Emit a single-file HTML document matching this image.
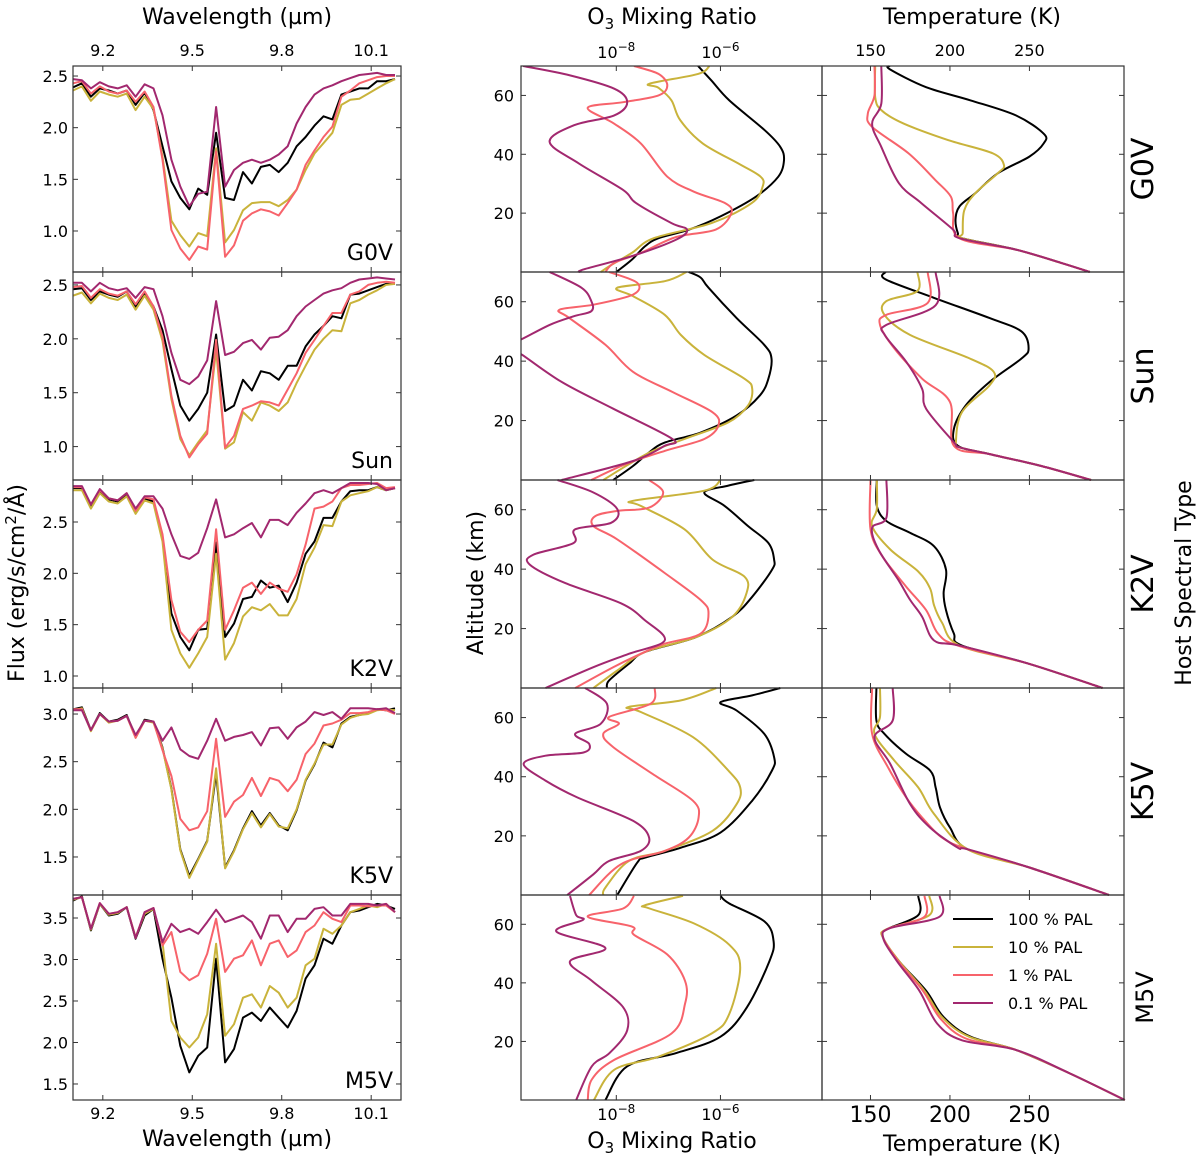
<!DOCTYPE html>
<html><head><meta charset="utf-8">
<style>
html,body{margin:0;padding:0;background:#fff;}
svg{display:block;font-family:"DejaVu Sans","Liberation Sans",sans-serif;}
</style></head>
<body>
<svg id="fig" width="1200" height="1162" viewBox="0 0 1200 1162" xmlns="http://www.w3.org/2000/svg">
<defs>
<clipPath id="cm"><rect x="521" y="66" width="301" height="1034"/></clipPath>
</defs>
<g id="panels"></g>
<g id="labels" font-size="22" fill="#000">
<text x="237" y="24" text-anchor="middle">Wavelength (µm)</text>
<text x="237" y="1146" text-anchor="middle">Wavelength (µm)</text>
<text x="672" y="24" text-anchor="middle">O<tspan font-size="15" dy="5">3</tspan><tspan dy="-5"> Mixing Ratio</tspan></text>
<text x="672" y="1148" text-anchor="middle">O<tspan font-size="15" dy="5">3</tspan><tspan dy="-5"> Mixing Ratio</tspan></text>
<text x="972" y="24" text-anchor="middle">Temperature (K)</text>
<text x="972" y="1151" text-anchor="middle">Temperature (K)</text>
<text transform="translate(24,583) rotate(-90)" text-anchor="middle">Flux (erg/s/cm<tspan font-size="15" dy="-8">2</tspan><tspan dy="8">/Å)</tspan></text>
<text transform="translate(483,583) rotate(-90)" text-anchor="middle">Altitude (km)</text>
<text transform="translate(1191,583) rotate(-90)" text-anchor="middle">Host Spectral Type</text>
</g>
</svg>
<script>
// ---------- Spectra data ----------
const wavelengths=[9.10,9.13,9.16,9.19,9.22,9.25,9.28,9.31,9.34,9.37,9.40,9.43,9.46,9.49,9.52,9.55,9.58,9.61,9.64,9.67,9.70,9.73,9.76,9.79,9.82,9.85,9.88,9.91,9.94,9.97,10.00,10.03,10.06,10.09,10.12,10.15,10.18];
const fluxG0V_100=[2.39,2.43,2.30,2.38,2.36,2.33,2.36,2.22,2.34,2.17,1.82,1.48,1.32,1.21,1.41,1.35,1.95,1.32,1.30,1.57,1.46,1.62,1.64,1.57,1.66,1.82,1.91,2.02,2.11,2.08,2.32,2.35,2.38,2.38,2.45,2.45,2.47];
const fluxG0V_10=[2.36,2.40,2.26,2.35,2.32,2.30,2.33,2.17,2.30,2.18,1.72,1.10,0.96,0.85,0.98,0.95,1.80,0.89,1.01,1.20,1.27,1.28,1.28,1.24,1.30,1.40,1.59,1.75,1.85,1.95,2.22,2.27,2.28,2.33,2.38,2.43,2.47];
const fluxG0V_1=[2.43,2.45,2.33,2.40,2.35,2.33,2.36,2.25,2.35,2.20,1.69,1.01,0.83,0.72,0.85,0.82,1.77,0.75,0.86,1.10,1.17,1.21,1.19,1.15,1.27,1.40,1.64,1.78,1.91,2.01,2.30,2.36,2.43,2.46,2.49,2.50,2.50];
const fluxG0V_01=[2.47,2.46,2.38,2.44,2.40,2.38,2.41,2.30,2.42,2.38,2.12,1.69,1.43,1.24,1.36,1.38,2.20,1.43,1.59,1.66,1.69,1.66,1.69,1.74,1.82,2.04,2.20,2.32,2.38,2.41,2.45,2.48,2.51,2.52,2.53,2.51,2.51];
const fluxSun_100=[2.46,2.47,2.36,2.44,2.41,2.39,2.44,2.30,2.42,2.30,2.08,1.72,1.38,1.24,1.35,1.50,2.04,1.33,1.38,1.62,1.52,1.70,1.68,1.62,1.75,1.75,1.93,2.04,2.12,2.21,2.19,2.41,2.42,2.45,2.48,2.51,2.51];
const fluxSun_10=[2.40,2.43,2.33,2.42,2.38,2.36,2.41,2.27,2.40,2.27,1.98,1.44,1.07,0.92,1.04,1.15,1.90,0.98,1.04,1.32,1.24,1.41,1.38,1.33,1.41,1.59,1.75,1.90,2.00,2.08,2.07,2.33,2.36,2.41,2.45,2.50,2.51];
const fluxSun_1=[2.48,2.49,2.38,2.46,2.42,2.40,2.44,2.32,2.44,2.30,2.02,1.47,1.10,0.90,1.02,1.12,1.99,0.99,1.10,1.35,1.38,1.42,1.41,1.38,1.53,1.68,1.87,1.99,2.12,2.24,2.24,2.41,2.44,2.50,2.52,2.53,2.52];
const fluxSun_01=[2.52,2.52,2.44,2.52,2.47,2.45,2.47,2.38,2.48,2.46,2.21,1.87,1.62,1.58,1.65,1.80,2.35,1.85,1.88,1.96,1.99,1.90,2.01,2.02,2.08,2.21,2.30,2.36,2.42,2.45,2.47,2.52,2.55,2.56,2.57,2.56,2.55];
const fluxK2V_100=[2.83,2.83,2.65,2.80,2.72,2.70,2.77,2.60,2.73,2.70,2.35,1.61,1.38,1.25,1.45,1.46,2.30,1.38,1.51,1.75,1.77,1.93,1.86,1.88,1.72,1.91,2.19,2.31,2.54,2.54,2.70,2.80,2.81,2.81,2.84,2.81,2.83];
const fluxK2V_10=[2.81,2.81,2.63,2.78,2.70,2.68,2.75,2.58,2.71,2.68,2.31,1.45,1.22,1.08,1.22,1.38,2.19,1.16,1.32,1.58,1.67,1.64,1.70,1.59,1.59,1.75,2.09,2.25,2.47,2.46,2.70,2.76,2.78,2.80,2.84,2.81,2.83];
const fluxK2V_1=[2.84,2.84,2.67,2.81,2.73,2.71,2.78,2.61,2.74,2.72,2.38,1.74,1.43,1.33,1.45,1.54,2.43,1.45,1.64,1.86,1.91,1.80,1.91,1.85,1.82,1.99,2.28,2.63,2.65,2.70,2.83,2.86,2.86,2.87,2.88,2.83,2.84];
const fluxK2V_01=[2.85,2.85,2.67,2.82,2.73,2.71,2.78,2.63,2.75,2.75,2.63,2.38,2.17,2.14,2.20,2.44,2.72,2.35,2.38,2.44,2.49,2.35,2.52,2.52,2.47,2.59,2.68,2.78,2.81,2.78,2.83,2.88,2.88,2.88,2.87,2.81,2.83];
const fluxK5V_100=[3.05,3.07,2.83,3.01,2.92,2.94,2.99,2.76,2.94,2.92,2.65,2.22,1.58,1.30,1.48,1.67,2.38,1.39,1.57,1.80,1.98,1.83,1.96,1.83,1.78,1.99,2.30,2.47,2.70,2.65,2.90,2.97,2.99,3.01,3.05,3.04,3.06];
const fluxK5V_10=[3.04,3.06,2.82,3.00,2.91,2.93,2.98,2.75,2.93,2.91,2.64,2.21,1.57,1.28,1.47,1.66,2.43,1.38,1.56,1.79,1.96,1.81,1.95,1.82,1.80,2.00,2.31,2.48,2.68,2.68,2.89,2.96,2.99,3.00,3.04,3.05,3.04];
const fluxK5V_1=[3.05,3.05,2.83,3.00,2.92,2.93,2.98,2.75,2.93,2.92,2.62,2.35,1.90,1.78,1.81,1.98,2.74,1.92,2.08,2.15,2.33,2.14,2.33,2.30,2.19,2.31,2.58,2.69,2.88,2.90,2.94,3.01,3.01,3.02,3.05,3.04,3.00];
const fluxK5V_01=[3.04,3.04,2.83,3.00,2.92,2.93,2.98,2.78,2.93,2.92,2.72,2.86,2.63,2.56,2.53,2.72,2.95,2.72,2.76,2.78,2.81,2.67,2.85,2.86,2.74,2.86,2.92,3.02,2.99,3.02,2.95,3.06,3.06,3.06,3.05,3.06,3.01];
const fluxM5V_100=[3.71,3.76,3.35,3.67,3.53,3.55,3.63,3.25,3.53,3.61,3.01,2.54,1.96,1.64,1.84,1.94,3.01,1.76,1.92,2.30,2.36,2.26,2.42,2.30,2.18,2.38,2.77,2.93,3.25,3.19,3.41,3.57,3.59,3.63,3.67,3.65,3.61];
const fluxM5V_10=[3.72,3.75,3.36,3.67,3.54,3.56,3.63,3.27,3.55,3.61,3.21,2.26,2.06,1.94,2.06,2.34,3.19,2.08,2.22,2.54,2.58,2.42,2.68,2.60,2.42,2.54,2.93,3.01,3.37,3.31,3.41,3.57,3.61,3.65,3.63,3.67,3.57];
const fluxM5V_1=[3.73,3.75,3.37,3.68,3.55,3.57,3.63,3.26,3.57,3.62,3.17,3.33,2.85,2.75,2.81,3.07,3.49,2.85,3.01,3.05,3.23,2.93,3.19,3.23,3.03,3.11,3.33,3.41,3.57,3.49,3.45,3.65,3.65,3.64,3.65,3.65,3.57];
const fluxM5V_01=[3.73,3.75,3.37,3.68,3.55,3.57,3.63,3.26,3.57,3.62,3.21,3.43,3.33,3.37,3.31,3.45,3.60,3.45,3.49,3.53,3.45,3.25,3.53,3.53,3.33,3.49,3.49,3.61,3.63,3.53,3.53,3.67,3.67,3.67,3.65,3.67,3.57];

// ---------- O3 profiles (log10 mixing ratio vs altitude km) ----------
const o3G0V_100=[-6.43,-6.17,-5.83,-5.15,-4.85,-4.78,-4.89,-5.32,-6.0,-6.6,-7.19,-7.45,-7.7,-8.0];
const altG0V_100=[70,65,58.3,48.2,42.5,38,32.4,25.6,18.9,14.4,11.5,8.7,4.2,0];
const o3G0V_10=[-6.21,-6.43,-7.36,-7.19,-6.94,-6.77,-6.34,-5.66,-5.23,-5.19,-5.40,-6.17,-7.28,-7.70,-8.13,-8.3];
const altG0V_10=[70,67.3,64,62.6,58.3,51.5,43.7,36.9,32.4,29,23.4,16.6,11.5,6.5,2,0];
const o3G0V_1=[-7.66,-7.19,-7.02,-7.19,-7.87,-8.55,-8.04,-7.53,-7.02,-6.51,-5.91,-5.79,-6.09,-6.85,-7.53,-8.04,-8.21];
const altG0V_1=[70,67.3,63.4,60,57.7,55.8,50.4,43.7,32.4,27.3,23.4,20,14.4,11.9,6.5,3.1,0];
const o3G0V_01=[-9.79,-8.89,-8.04,-7.79,-8.04,-8.81,-9.28,-8.72,-7.87,-7.62,-6.94,-6.64,-6.85,-7.70,-8.64,-8.68];
const altG0V_01=[70,66.8,62.3,57.7,53.2,49.9,44.2,36.9,27.9,23.4,16.6,14.4,11,5.4,0.8,0];

const o3Sun_100=[-6.61,-6.38,-6.23,-5.69,-5.16,-5.02,-5.08,-5.24,-5.69,-6.38,-7.07,-7.37,-7.68,-8.06];
const altSun_100=[70,68.1,64.7,54.5,45.5,40.9,34.1,28.5,21.7,16,12.6,9.3,4.7,0];
const o3Sun_10=[-6.65,-7.07,-7.98,-7.68,-7.07,-6.76,-6.31,-5.54,-5.39,-5.47,-5.85,-6.69,-7.30,-7.76,-8.25];
const altSun_10=[70,66.9,64.7,61.9,55.6,48.8,42.1,34.1,30.7,25.1,19.4,13.8,9.8,5.3,0];
const o3Sun_1=[-8.14,-7.6,-7.68,-8.44,-9.09,-8.9,-8.21,-7.68,-6.92,-6.15,-6.04,-6.31,-7.07,-7.83,-8.48];
const altSun_1=[70,66.4,62.4,59,57.3,54.5,45.5,36.4,29.6,22.8,18.3,13.8,9.8,5.3,0];
const o3Sun_01=[-9.28,-8.67,-8.48,-8.48,-8.82,-9.28,-9.85,-10.15,-9.85,-9.05,-8.06,-6.92,-7.07,-7.68,-9.05];
const altSun_01=[70,64.7,60.2,56.8,55.1,52.2,47.1,45,42.6,33,24,13.8,11.5,6.4,0];

const o3K2V_100=[-5.35,-5.85,-6.31,-5.92,-5.47,-5.08,-4.97,-5.01,-5.39,-5.77,-6.46,-7.45,-7.76,-8.14,-8.18];
const altK2V_100=[70,68.1,65.8,61.3,54.5,48.8,43.2,39.8,30.7,24,17.2,12.1,8.1,2.5,0];
const o3K2V_10=[-6.0,-6.31,-7.68,-7.53,-6.69,-6.15,-5.54,-5.50,-5.77,-6.46,-7.45,-7.98,-8.44];
const altK2V_10=[70,66.4,63,61.3,53.4,43.2,37.5,31.9,24,17.2,12.1,5.9,0];
const o3K2V_1=[-7.37,-7.1,-7.37,-7.98,-8.4,-8.44,-7.98,-7.07,-6.38,-6.23,-6.38,-7.07,-7.53,-8.06,-8.79];
const altK2V_1=[70,65.8,60.7,59.6,57.9,54.5,50,38.7,29.6,25.1,18.3,14.9,11.5,7,0];
const o3K2V_01=[-9.13,-8.44,-7.98,-8.10,-8.79,-8.82,-9.59,-9.66,-8.98,-7.91,-7.45,-7.07,-7.76,-8.44,-9.36];
const altK2V_01=[70,65.8,60.2,55.6,53.4,48.8,44.9,41.5,35.3,28.5,22.8,16,11.5,7,0];

const o3K5V_100=[-4.85,-5.39,-6.0,-5.69,-5.16,-4.97,-5.01,-5.39,-6.0,-6.76,-7.45,-7.60,-7.98];
const altK5V_100=[70,67.5,65.2,62.4,54.5,46.6,42.1,31.9,21.1,16,12.6,10.9,0];
const o3K5V_10=[-6.08,-6.76,-7.76,-7.53,-6.53,-5.85,-5.62,-5.69,-6.15,-7.07,-7.76,-8.21,-8.25];
const altK5V_10=[70,65.8,63.6,61.9,53.4,42.1,36.4,30.7,21.7,14.9,11.5,2.5,0];
const o3K5V_1=[-7.26,-7.34,-8.14,-7.95,-8.25,-8.06,-7.30,-6.53,-6.42,-6.61,-7.07,-7.91,-8.52];
const altK5V_1=[70,64.7,60.2,57.9,54.5,50,40.9,31.9,26.2,19.4,14.9,10.4,0];
const o3K5V_01=[-8.6,-8.18,-8.3,-8.79,-8.52,-8.63,-9.36,-9.78,-9.36,-8.75,-7.68,-7.37,-7.53,-8.14,-8.44,-8.94];
const altK5V_01=[70,64.7,57.9,54.5,51.1,48.2,47.1,44.3,38.7,33,25.1,19.4,14.9,11.5,7,0];

const o3M5V_100=[-6.0,-5.83,-5.15,-4.98,-5.06,-5.49,-6.0,-6.85,-7.79,-8.21];
const altM5V_100=[69.7,67.1,60.9,54.2,47.4,31.7,21.6,16,11.5,0];
const o3M5V_10=[-6.72,-7.45,-7.36,-6.51,-5.83,-5.62,-5.83,-6.17,-7.19,-8.04,-8.43];
const altM5V_10=[69.7,66.5,65.4,60.3,53,45.2,29.4,22.7,14.8,10.3,0];
const o3M5V_1=[-7.66,-7.87,-8.55,-7.7,-7.66,-7.02,-6.68,-6.68,-6.94,-8.04,-8.47,-8.55];
const altM5V_1=[69.7,65.4,62.6,59.2,56.4,49.7,40.7,32.8,22.7,13.7,7,0];
const o3M5V_01=[-8.89,-8.77,-8.64,-9.15,-8.21,-8.89,-8.47,-7.87,-7.79,-8.13,-8.47,-8.77];
const altM5V_01=[69.7,63.1,61.5,57.5,51.9,47.4,40.7,31.7,23.8,16,11.5,0];

// ---------- Temperature profiles (K vs altitude km) ----------
const tG0V_100=[162,162.4,185,213,241.5,259,259,250,230,216,206,203.5,205,207.6,241.5,270,288];
const tAltG0V_100=[70,68.8,62.8,58.3,53.2,47,43.7,39.2,33.5,26.8,22.3,17.7,13.2,11.5,7.6,3.1,0];
const tG0V_10=[153,153,157,171,199,227,234,230,216,209,208,207.6,241.5,270,288];
const tAltG0V_10=[70,59.4,54.9,50.4,44.8,40.3,36.3,33.5,26.8,21,13.2,11.5,7.6,3.1,0];
const tG0V_1=[152.5,152.5,148.3,151,174,190.7,200.6,202,206,241.5,270,288];
const tAltG0V_1=[70,60,53.8,49.3,40.3,31.3,25.6,20,11.5,7.6,3.1,0];
const tG0V_01=[156.8,156.8,151,156.8,168,182,202,206,241.5,270,288];
const tAltG0V_01=[70,57.2,50.4,42.5,30.1,23.4,14.4,11.5,7.6,3.1,0];

const tSun_100=[159.5,159.5,190,225,245,249.5,245,225,210,202.5,205,225,257.5,288.75];
const tAltSun_100=[70,67.5,61.3,54.5,50,44.3,40.9,33,25.1,17.2,11.5,8.7,4.7,0];
const tSun_10=[179.5,179.5,160,158.75,175,212.5,227.5,225,207.5,203.75,206,225,257.5,288.75];
const tAltSun_10=[70,63.6,60.2,55.6,48.8,40.9,36.4,31.9,22.8,12.7,11,8.7,4.7,0];
const tSun_1=[186,186,160,156,165,182.5,200,202.5,225,257.5,288.75];
const tAltSun_1=[70,59.6,55.6,52.2,44.3,34.1,26.2,11.5,8.7,4.7,0];
const tSun_01=[191,191,160,159,172.5,182.5,185,202.5,206,225,257.5,288.75];
const tAltSun_01=[70,58.8,52.2,48.8,39.8,30.7,24,12.7,11,8.7,4.7,0];

const tK2V_100=[154,154,160,175,190,197.5,196,197.5,202.5,207.5,250,296];
const tAltK2V_100=[70,61.3,56.2,52.2,47.7,39.8,31.9,26.2,18.3,14.3,8.1,0];
const tK2V_10=[154,154,151,162.5,180,187.5,190,195,206,250,296];
const tAltK2V_10=[70,60.2,54.5,46.6,39.2,33.5,27.8,22,14.3,8.1,0];
const tK2V_1=[150,150,157.5,172.5,185,192.5,205,250,296];
const tAltK2V_1=[70,53.4,44.3,34.1,26.2,18.3,14.3,8.1,0];
const tK2V_01=[160,160,151,155,167.5,175,182.5,190,206,250,296];
const tAltK2V_01=[70,57.3,53.9,46.6,36.4,29.6,24,16,14.3,8.1,0];

const tK5V_100=[153.75,153.75,158.75,172.5,187.5,191,193.75,200,211,250,300];
const tAltK5V_100=[70,59,54.5,47.7,42.1,36.4,29.6,22.8,15.5,9.3,0];
const tK5V_10=[156,156,152.5,165,180,190,211,250,300];
const tAltK5V_10=[70,60.2,54.5,45.5,36.4,27.4,15.5,9.3,0];
const tK5V_1=[151,151,161,172.5,182.5,195,211,250,300];
const tAltK5V_1=[70,54.5,43.2,33,26.2,19.4,15.5,9.3,0];
const tK5V_01=[164,164,152.5,162.5,175,187.5,205,211,250,300];
const tAltK5V_01=[70,59,53.4,44.3,30.7,22.8,16,15.5,9.3,0];

const tM5V_100=[180,180,159.6,158,168,185,196,213,241.5,275,310];
const tAltM5V_100=[69.7,63.1,58.1,55.3,47.4,37.3,28.3,21.6,17.1,9.2,0];
const tM5V_10=[187,187,160,158,168,184,195,212,241.5,275,310];
const tAltM5V_10=[69.7,63.1,58.3,55.3,47.4,37.3,28.3,21.6,17.1,9.2,0];
const tM5V_1=[184,184,161,158,167.5,183,194,210,241.5,275,310];
const tAltM5V_1=[69.7,62.6,58.5,55.3,47.4,37.3,27.8,21,17.1,9.2,0];
const tM5V_01=[193.5,193.5,162.4,158,166.7,180.8,192,207.6,241.5,275,310];
const tAltM5V_01=[69.7,62.6,58.7,55.3,47.4,37.3,26.1,20.4,17.1,9.2,0];

const seriesLabels=["100 % PAL","10 % PAL","1 % PAL","0.1 % PAL"];
const starNames=["G0V","Sun","K2V","K5V","M5V"];
const colors=["#000000","#c9b33b","#f7636b","#a2286f"];

const rowTops=[66,272,480,688,895], rowBottom=1100;
const fluxDomains=[[0.603,2.597],[0.69,2.62],[0.883,2.909],[1.101,3.273],[1.307,3.777]];
const fluxTicks=[[1.0,1.5,2.0,2.5],[1.0,1.5,2.0,2.5],[1.0,1.5,2.0,2.5],[1.5,2.0,2.5,3.0],[1.5,2.0,2.5,3.0,3.5]];
const fluxData=[[fluxG0V_100,fluxG0V_10,fluxG0V_1,fluxG0V_01],[fluxSun_100,fluxSun_10,fluxSun_1,fluxSun_01],[fluxK2V_100,fluxK2V_10,fluxK2V_1,fluxK2V_01],[fluxK5V_100,fluxK5V_10,fluxK5V_1,fluxK5V_01],[fluxM5V_100,fluxM5V_10,fluxM5V_1,fluxM5V_01]];
const o3Data=[[[o3G0V_100,altG0V_100],[o3G0V_10,altG0V_10],[o3G0V_1,altG0V_1],[o3G0V_01,altG0V_01]],
[[o3Sun_100,altSun_100],[o3Sun_10,altSun_10],[o3Sun_1,altSun_1],[o3Sun_01,altSun_01]],
[[o3K2V_100,altK2V_100],[o3K2V_10,altK2V_10],[o3K2V_1,altK2V_1],[o3K2V_01,altK2V_01]],
[[o3K5V_100,altK5V_100],[o3K5V_10,altK5V_10],[o3K5V_1,altK5V_1],[o3K5V_01,altK5V_01]],
[[o3M5V_100,altM5V_100],[o3M5V_10,altM5V_10],[o3M5V_1,altM5V_1],[o3M5V_01,altM5V_01]]];
const tData=[[[tG0V_100,tAltG0V_100],[tG0V_10,tAltG0V_10],[tG0V_1,tAltG0V_1],[tG0V_01,tAltG0V_01]],
[[tSun_100,tAltSun_100],[tSun_10,tAltSun_10],[tSun_1,tAltSun_1],[tSun_01,tAltSun_01]],
[[tK2V_100,tAltK2V_100],[tK2V_10,tAltK2V_10],[tK2V_1,tAltK2V_1],[tK2V_01,tAltK2V_01]],
[[tK5V_100,tAltK5V_100],[tK5V_10,tAltK5V_10],[tK5V_1,tAltK5V_1],[tK5V_01,tAltK5V_01]],
[[tM5V_100,tAltM5V_100],[tM5V_10,tAltM5V_10],[tM5V_1,tAltM5V_1],[tM5V_01,tAltM5V_01]]];
const wlTicks=[9.2,9.5,9.8,10.1];
const o3TickExp=[-8,-6];
const tempTicks=[150,200,250];
const altTicks=[20,40,60];

const NS="http://www.w3.org/2000/svg";
const root=document.getElementById('panels');
const L={x0:73,x1:401},M={x0:521,x1:822},R={x0:822,x1:1124};
const wlDom=[9.1,10.2], o3Dom=[-9.83,-4.05], tDom=[119.5,309.5], altDom=[0,70];
function lin(d,r){return v=>r[0]+(v-d[0])/(d[1]-d[0])*(r[1]-r[0]);}
function mk(tag,attrs,parent){const e=document.createElementNS(NS,tag);for(const k in attrs)e.setAttribute(k,attrs[k]);(parent||root).appendChild(e);return e;}
function polyD(pts){return pts.map((p,i)=>(i?'L':'M')+p[0].toFixed(1)+','+p[1].toFixed(1)).join('');}
function smoothD(p){let d='M'+p[0][0].toFixed(1)+','+p[0][1].toFixed(1);for(let i=0;i<p.length-1;i++){const p0=p[i-1]||p[i],p1=p[i],p2=p[i+1],p3=p[i+2]||p2;const c1=[p1[0]+(p2[0]-p0[0])/6,p1[1]+(p2[1]-p0[1])/6],c2=[p2[0]-(p3[0]-p1[0])/6,p2[1]-(p3[1]-p1[1])/6];d+='C'+c1[0].toFixed(1)+','+c1[1].toFixed(1)+' '+c2[0].toFixed(1)+','+c2[1].toFixed(1)+' '+p2[0].toFixed(1)+','+p2[1].toFixed(1);}return d;}
function tick(x1,y1,x2,y2){const t=mk('line',{x1,y1,x2,y2,stroke:'#333','stroke-width':1});}
function txt(x,y,s,size,anchor,name){const t=mk('text',{x,y,'font-size':size,'text-anchor':anchor||'middle',fill:'#000'});t.textContent=s;return t;}
function pow10(x,y,e,name){const t=mk('text',{x,y,'font-size':16,'text-anchor':'middle',fill:'#000'});const a=document.createElementNS(NS,'tspan');a.textContent='10';t.appendChild(a);const b=document.createElementNS(NS,'tspan');b.setAttribute('font-size','12');b.setAttribute('dy','-7');b.textContent='−'+Math.abs(e);t.appendChild(b);}

for(let r=0;r<5;r++){
  const y0=rowTops[r], y1=(r<4?rowTops[r+1]:rowBottom);
  const star=starNames[r].toLowerCase();
  const sx=lin(wlDom,[L.x0,L.x1]), sy=lin(fluxDomains[r],[y1,y0]);
  for(let s=0;s<4;s++){
    const pts=wavelengths.map((w,i)=>[sx(w),sy(fluxData[r][s][i])]);
    const p=mk('path',{d:polyD(pts),fill:'none',stroke:colors[s],'stroke-width':2,'stroke-linejoin':'round'});
    
    
  }
  wlTicks.forEach(w=>{const x=sx(w);tick(x,y0,x,y0+5);tick(x,y1,x,y1-5);});
  fluxTicks[r].forEach(v=>{const y=sy(v);tick(L.x0,y,L.x0+5,y);tick(L.x1,y,L.x1-5,y);txt(L.x0-5,y+6,v.toFixed(1),16,'end','flux-tick-label');});
  const fr=mk('rect',{x:L.x0,y:y0,width:L.x1-L.x0,height:y1-y0,fill:'none',stroke:'#333','stroke-width':1.2});
  
  
  txt(L.x1-8,y1-12,starNames[r],22,'end',star+'-panel-label');
  const mx=lin(o3Dom,[M.x0,M.x1]), my=lin(altDom,[y1,y0]);
  const g=mk('g',{'clip-path':'url(#cm)'});
  
  
  for(let s=0;s<4;s++){
    const [xs,as]=o3Data[r][s];
    const pts=xs.map((v,i)=>[mx(v),my(as[i])]);
    const p=mk('path',{d:smoothD(pts),fill:'none',stroke:colors[s],'stroke-width':2},g);
    
    
  }
  o3TickExp.forEach(e=>{const x=mx(e);tick(x,y0,x,y0+5);tick(x,y1,x,y1-5);});
  altTicks.forEach(a=>{const y=my(a);tick(M.x0,y,M.x0+5,y);tick(M.x1,y,M.x1-5,y);tick(R.x0,y,R.x0+5,y);tick(R.x1,y,R.x1-5,y);txt(M.x0-7,y+6,String(a),16,'end','altitude-tick-label');});
  const mr=mk('rect',{x:M.x0,y:y0,width:M.x1-M.x0,height:y1-y0,fill:'none',stroke:'#333','stroke-width':1.2});
  
  
  const tx=lin(tDom,[R.x0,R.x1]);
  for(let s=0;s<4;s++){
    const [xs,as]=tData[r][s];
    const pts=xs.map((v,i)=>[tx(v),my(as[i])]);
    const p=mk('path',{d:smoothD(pts),fill:'none',stroke:colors[s],'stroke-width':2});
    
    
  }
  tempTicks.forEach(t=>{const x=tx(t);tick(x,y0,x,y0+5);tick(x,y1,x,y1-5);});
  const rr=mk('rect',{x:R.x0,y:y0,width:R.x1-R.x0,height:y1-y0,fill:'none',stroke:'#333','stroke-width':1.2});
  
  
  const yc=(y0+y1)/2, fs=(r===4?24:30);
  const rl=mk('text',{transform:'translate('+(1153)+','+yc+') rotate(-90)','font-size':fs,'text-anchor':'middle',fill:'#000'});
  rl.textContent=starNames[r];
  
  
}
{
  const sx=lin(wlDom,[L.x0,L.x1]);
  wlTicks.forEach(w=>{txt(sx(w),56,w.toFixed(1),16,'middle','top-wavelength-tick');txt(sx(w),1119,w.toFixed(1),16,'middle','bottom-wavelength-tick');});
  const mx=lin(o3Dom,[M.x0,M.x1]);
  o3TickExp.forEach(e=>{pow10(mx(e),58,e,'top-o3-tick');pow10(mx(e),1120,e,'bottom-o3-tick');});
  const tx=lin(tDom,[R.x0,R.x1]);
  tempTicks.forEach(t=>{txt(tx(t),56,String(t),16,'middle','top-temperature-tick');txt(tx(t),1122,String(t),22,'middle','bottom-temperature-tick');});
}
{
  const lg=mk('g',{});
  
  
  for(let s=0;s<4;s++){
    const y=919+s*28;
    const l=mk('line',{x1:953,y1:y,x2:993,y2:y,stroke:colors[s],'stroke-width':2},lg);
    
    
    const t=mk('text',{x:1008,y:y+6,'font-size':16,fill:'#000'},lg);
    t.textContent=seriesLabels[s];
    
    
  }
}
</script>
</body></html>
